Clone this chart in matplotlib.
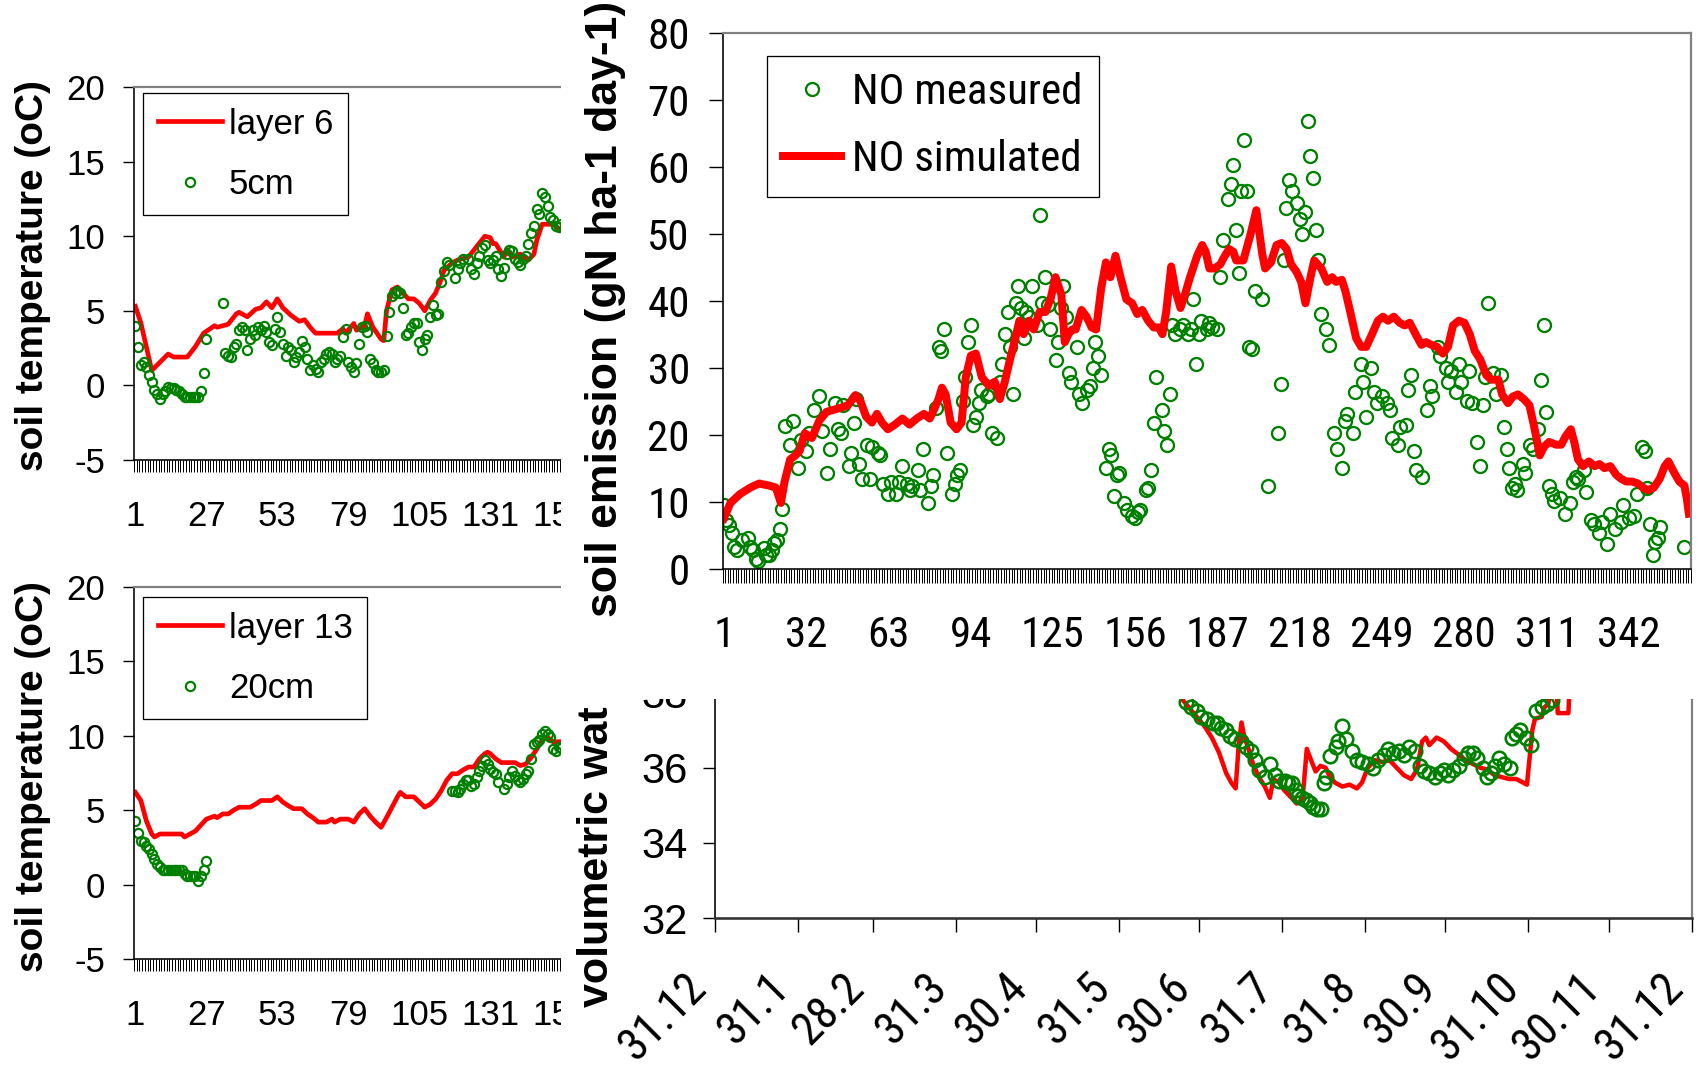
import os
import numpy as np
import matplotlib
matplotlib.use("Agg")
import matplotlib.pyplot as plt
from matplotlib.patches import Rectangle
from matplotlib.transforms import Bbox, TransformedBbox
from matplotlib import font_manager as fm
from matplotlib.font_manager import FontProperties

W, H, DPI = 1703, 1067, 100
PT = 72.0 / DPI

REG = "Liberation Sans"
plt.rcParams["font.family"] = [REG, "DejaVu Sans"]
plt.rcParams["axes.unicode_minus"] = False


def pick_condensed():
    pref = ["liberation sans narrow", "arial narrow", "roboto condensed", "open sans condensed",
            "noto sans", "liberation sans", "roboto", "open sans", "lato", "inter", "dejavu sans"]
    best = None
    for f in fm.fontManager.ttflist:
        base = os.path.basename(f.fname).lower()
        nm = f.name.lower()
        cond = ("narrow" in nm or "condensed" in nm or "narrow" in base or "condensed" in base
                or str(f.stretch) in ("condensed", "semi-condensed"))
        if not cond:
            continue
        if ("serif" in nm and "sans" not in nm) or "mono" in nm or "mono" in base:
            continue
        if any(k in base for k in ("bold", "italic", "light", "thin", "black", "medium",
                                   "oblique", "extracondensed", "ultracondensed",
                                   "extra-condensed", "ultra-condensed")):
            continue
        if f.style != "normal":
            continue
        fam = len(pref)
        for i, p in enumerate(pref):
            if nm.startswith(p):
                fam = i
                break
        var = 1 if "semi" in base or "semi" in str(f.stretch) else 0
        key = (fam, var)
        if best is None or key < best[0]:
            best = (key, f.fname)
    return best[1] if best else None


_cond = pick_condensed()
if _cond:
    NFP = FontProperties(fname=_cond, size=31)
    NFP_BR = FontProperties(fname=_cond, size=33)
else:
    NFP = FontProperties(family=REG, size=28)
    NFP_BR = FontProperties(family=REG, size=30)

RED, GREEN, GRAY = "#ff0000", "#008000", "#808080"

# ---------------- data ----------------
tl_xticks = [1, 27, 53, 79, 105, 131, 157]
tr_xticks = [1, 32, 63, 94, 125, 156, 187, 218, 249, 280, 311, 342]
br_xticks = [0, 31, 59, 90, 120, 151, 181, 212, 243, 273, 304, 334, 365]
br_xlabels = ["31.12", "31.1", "28.2", "31.3", "30.4", "31.5", "30.6", "31.7",
              "31.8", "30.9", "31.10", "30.11", "31.12"]

# top-left: layer 6 simulated / 5 cm measured
tl_sim_day = [1, 3, 7, 13, 15, 20, 23, 26, 30, 31, 35, 38, 39, 42, 45, 47, 49, 51, 53, 55, 58,
              61, 63, 65, 67, 75, 77, 78, 81, 82, 85, 86, 88, 91, 92, 93, 95, 97, 99, 101, 103,
              105, 107, 109, 111, 113, 114, 117, 119, 123, 126, 129, 131, 132, 133, 136, 137,
              139, 142, 145, 147, 148, 150, 154, 157, 160]
tl_sim_val = [5.3, 4.2, 1.0, 2.1, 1.9, 1.9, 2.6, 3.5, 4.0, 3.9, 4.1, 4.8, 4.9, 4.6, 5.1, 5.2,
              5.6, 5.2, 5.8, 5.2, 4.7, 4.3, 4.4, 3.9, 3.5, 3.5, 3.8, 3.5, 4.15, 3.7, 4.0, 4.8,
              3.9, 3.1, 3.0, 5.0, 6.4, 6.6, 6.2, 5.8, 5.8, 5.5, 5.0, 5.7, 6.2, 7.1, 7.7, 8.2,
              8.4, 8.6, 9.3, 10.0, 9.9, 9.5, 9.5, 8.6, 9.1, 8.6, 8.8, 8.4, 8.8, 9.7, 10.8,
              10.8, 10.4, 10.4]
tl_obs_day = [1, 2, 3, 4, 5, 6, 7, 8, 9, 10, 11, 12, 13, 14, 15, 16, 17, 18, 19, 20, 21, 22,
              23, 24, 25, 26, 27, 33, 34, 35, 36, 37, 38, 39, 40, 41, 42, 43, 44, 45, 46, 47,
              48, 49, 50, 51, 52, 53, 54, 55, 56, 57, 58, 59, 60, 61, 62, 63, 64, 65, 66, 67,
              68, 69, 70, 71, 72, 73, 74, 75, 76, 77, 78, 79, 80, 81, 82, 83, 84, 85, 86, 87,
              88, 89, 90, 91, 92, 93, 94, 95, 96, 97, 98, 99, 100, 101, 102, 103, 104, 105,
              106, 107, 108, 109, 110, 111, 112, 113, 114, 115, 116, 118, 119, 120, 121, 123,
              124, 125, 126, 127, 128, 129, 130, 131, 132, 133, 134, 135, 136, 137, 138, 139,
              140, 141, 142, 143, 144, 145, 146, 147, 148, 149, 150, 151, 152, 153, 154, 155,
              156, 157]
tl_obs_val = [4.0, 2.6, 1.35, 1.6, 1.25, 0.7, 0.25, -0.3, -0.6, -0.9, -0.6, -0.4, -0.1,
              -0.15, -0.2, -0.3, -0.4, -0.6, -0.75, -0.8, -0.8, -0.8, -0.8, -0.75, -0.4, 0.8,
              3.1, 5.5, 2.2, 2.0, 1.9, 2.6, 2.8, 3.7, 3.9, 3.7, 2.4, 3.1, 3.7, 3.4, 3.9, 3.7,
              4.0, 3.6, 2.9, 2.7, 3.8, 4.6, 3.6, 2.8, 2.0, 2.6, 2.4, 1.6, 1.9, 2.25, 3.0, 2.6,
              1.8, 1.0, 1.35, 1.1, 0.9, 1.6, 1.8, 2.1, 2.25, 2.1, 1.6, 1.8, 2.0, 3.25, 3.8,
              1.6, 1.25, 0.9, 1.5, 2.8, 3.9, 4.0, 3.6, 1.8, 1.5, 1.0, 0.9, 0.9, 1.0, 3.3, 4.9,
              6.0, 6.2, 6.3, 6.2, 5.2, 3.4, 3.5, 3.9, 4.15, 4.15, 2.9, 2.35, 3.1, 3.4, 4.6,
              5.4, 4.7, 4.8, 6.9, 7.7, 8.3, 8.1, 7.2, 7.8, 8.2, 8.5, 8.5, 7.8, 7.5, 8.2, 8.7,
              9.2, 9.4, 8.4, 8.2, 8.4, 8.7, 7.8, 7.3, 7.9, 8.8, 9.1, 9.0, 8.5, 8.3, 8.1, 8.5,
              8.7, 9.5, 10.2, 10.7, 11.8, 11.5, 12.9, 12.6, 12.0, 11.3, 11.1, 10.7, 10.6, 10.8]

# bottom-left: layer 13 simulated / 20 cm measured
bl_sim_day = [1, 3, 5, 7, 8, 10, 18, 19, 21, 23, 25, 27, 30, 31, 33, 35, 37, 39, 43, 45, 47,
              51, 53, 55, 57, 59, 62, 64, 66, 68, 71, 73, 74, 76, 79, 81, 83, 85, 87, 89, 91,
              93, 95, 97, 98, 100, 103, 105, 107, 109, 111, 113, 115, 117, 119, 121, 123, 125,
              127, 129, 130, 131, 133, 135, 140, 142, 144, 146, 148, 150, 152, 154, 160]
bl_sim_val = [6.2, 5.65, 4.3, 3.4, 3.2, 3.4, 3.4, 3.2, 3.4, 3.6, 4.0, 4.4, 4.6, 4.5, 4.75,
              4.75, 5.0, 5.2, 5.2, 5.4, 5.65, 5.65, 5.9, 5.55, 5.3, 5.1, 5.1, 4.75, 4.5, 4.2,
              4.2, 4.4, 4.2, 4.4, 4.4, 4.2, 4.75, 5.1, 4.6, 4.2, 3.85, 4.5, 5.2, 5.9, 6.2, 5.9,
              5.9, 5.55, 5.2, 5.4, 5.75, 6.3, 7.0, 7.45, 7.45, 7.7, 7.9, 7.9, 8.45, 8.8, 8.9,
              8.8, 8.45, 8.2, 8.2, 8.0, 8.1, 8.55, 9.1, 9.7, 9.9, 9.6, 9.6]
bl_obs_day = [1, 2, 3, 4, 5, 6, 7, 8, 9, 10, 11, 12, 13, 14, 15, 16, 17, 18, 19, 20, 21, 22,
              23, 24, 25, 26, 27, 117, 118, 119, 120, 121, 122, 123, 124, 125, 126, 127, 128,
              129, 130, 131, 132, 133, 134, 136, 137, 138, 139, 140, 141, 142, 143, 144, 145,
              146, 147, 148, 149, 150, 151, 152, 153, 154, 155, 156, 157]
bl_obs_val = [4.3, 3.5, 2.95, 2.85, 2.6, 2.4, 2.05, 1.7, 1.4, 1.15, 0.95, 0.95, 0.95, 0.95,
              0.95, 0.95, 0.95, 0.95, 0.7, 0.6, 0.6, 0.6, 0.6, 0.25, 0.6, 0.95, 1.6, 6.3, 6.3,
              6.2, 6.4, 6.75, 7.0, 7.0, 6.65, 6.75, 7.2, 7.65, 8.0, 8.35, 8.1, 7.8, 7.55,
              7.45, 6.9, 6.4, 6.75, 7.2, 7.65, 7.3, 7.0, 6.9, 7.1, 7.45, 7.65, 8.45, 9.45,
              9.55, 9.7, 10.1, 10.35, 10.1, 9.9, 9.1, 9.0, 9.25, 9.2]

# top-right: NO emission
tr_sim_day = [1, 3.5, 7, 11, 14.3, 18, 20.6, 22.5, 23.9, 26, 28, 29.6, 31.5, 34.2, 37, 39.7,
              42.4, 45, 47.8, 50.6, 52.5, 54.6, 56.8, 58.7, 60.6, 62.8, 65.5, 68.3, 71, 73.7,
              76.4, 78.6, 80.5, 81.9, 83.2, 84.6, 86.5, 88.7, 90.6, 92.2, 94.1, 96, 98.2,
              100.9, 103.1, 105, 106.9, 108.6, 110.5, 112.4, 114, 116, 117.8, 120, 122.2,
              124.1, 126, 128.2, 129.5, 130.9, 132.3, 133.6, 135.8, 137.7, 139.6, 141.3,
              143.2, 145, 146.7, 148.6, 150.5, 152.7, 154.9, 156.8, 158.7, 160.9, 163, 164.9,
              166.3, 167.7, 169.6, 171.2, 173.1, 175, 176.7, 179.4, 181.3, 182.6, 184, 185.9,
              188.1, 189.4, 191.4, 193, 194.1, 196.8, 199.5, 201.7, 203.9, 205, 207.2, 209.3,
              211.2, 213.1, 214.8, 216.7, 218.6, 220.2, 222.1, 223.5, 226.2, 228.4, 230.3,
              231.7, 233.9, 235.2, 237.1, 239.3, 241.2, 243.1, 245.3, 247.5, 249.4, 251.3,
              253.5, 255.7, 257.6, 259.5, 261.7, 263.9, 265.7, 267.6, 269.8, 272, 273.9,
              275.8, 278, 280.1, 282.1, 284, 286.1, 288.3, 290.2, 292.9, 294.3, 296.5, 298.4,
              300.3, 302.5, 304.6, 306.6, 308.5, 310.1, 312, 314.7, 316.6, 318.3, 320.2,
              321.5, 322.9, 324.8, 327, 329.2, 331, 332.9, 335.1, 337.3, 339.2, 341.1, 343.3,
              345.5, 347.4, 349.3, 351.5, 353.7, 355.6, 357, 359.2, 361.1, 363, 363.9, 364.7]
tr_sim_val = [7.6, 9.9, 11.2, 12.2, 12.8, 12.5, 12.2, 9.9, 13.1, 16.4, 17.0, 17.7, 20.3,
              19.6, 22.2, 23.5, 23.8, 24.1, 24.5, 26.0, 25.1, 22.8, 21.9, 23.2, 21.9, 20.9,
              21.6, 22.5, 21.6, 22.5, 23.2, 22.5, 24.1, 25.4, 27.1, 26.1, 21.9, 20.9, 21.9,
              28.7, 31.9, 32.2, 28.7, 27.4, 28.0, 25.4, 28.0, 30.9, 33.9, 37.1, 35.1, 37.1,
              35.8, 38.4, 38.4, 40.3, 43.6, 41.0, 33.9, 35.1, 35.8, 35.8, 38.7, 37.7, 36.1,
              35.8, 41.9, 45.8, 43.6, 46.8, 43.6, 40.3, 39.7, 38.1, 38.7, 37.1, 36.1, 36.1,
              35.1, 38.4, 45.2, 41.6, 39.0, 41.3, 43.6, 46.8, 48.4, 47.4, 44.9, 44.9, 45.5,
              46.5, 47.8, 47.4, 46.1, 46.1, 50.0, 53.6, 47.1, 44.9, 45.8, 48.4, 48.7, 47.8,
              45.5, 44.5, 42.9, 39.7, 43.6, 46.1, 44.9, 42.9, 43.6, 42.9, 43.2, 41.6, 38.4,
              34.5, 33.2, 33.2, 35.1, 37.1, 37.7, 37.1, 37.7, 36.8, 36.4, 36.8, 35.1, 33.5,
              33.9, 33.5, 33.2, 32.2, 33.2, 36.4, 37.1, 36.8, 35.1, 32.6, 31.3, 29.0, 28.3,
              28.3, 26.1, 24.8, 25.8, 26.1, 25.4, 24.5, 20.9, 17.0, 18.3, 19.0, 18.6, 18.6,
              19.9, 20.9, 19.0, 16.4, 15.4, 16.1, 15.4, 15.7, 15.1, 15.4, 14.1, 13.5, 13.1,
              13.1, 12.8, 12.2, 11.8, 12.2, 13.5, 15.4, 16.1, 14.4, 13.1, 12.5, 10.6, 8.3]
tr_obs_day = [1, 2, 3, 4, 5, 6, 8, 10, 11, 12, 13, 14, 16, 17, 18, 19, 20, 21, 22, 23, 24,
              26, 27, 29, 30, 32, 33, 35, 37, 38, 40, 41, 43, 44, 45, 46, 48, 49, 50, 51, 52,
              53, 55, 56, 57, 59, 60, 61, 63, 64, 66, 67, 68, 70, 71, 72, 74, 75, 76, 78, 79,
              80, 81, 82, 83, 84, 85, 87, 88, 89, 90, 91, 92, 93, 94, 95, 96, 97, 98, 100,
              101, 102, 104, 105, 106, 107, 108, 109, 110, 111, 112, 113, 114, 115, 116, 117,
              119, 120, 121, 122, 123, 124, 126, 127, 128, 129, 130, 131, 132, 134, 135, 136,
              138, 139, 140, 141, 142, 143, 145, 146, 147, 148, 149, 150, 152, 153, 155, 156,
              157, 158, 160, 161, 162, 163, 164, 166, 167, 168, 169, 170, 171, 173, 174, 176,
              177, 178, 179, 180, 181, 183, 184, 185, 187, 188, 189, 191, 192, 193, 194, 195,
              196, 197, 198, 199, 200, 201, 204, 206, 210, 211, 212, 213, 214, 215, 217, 218,
              219, 220, 221, 222, 223, 224, 225, 226, 228, 229, 231, 232, 234, 235, 236, 238,
              239, 241, 242, 243, 245, 246, 247, 249, 251, 252, 253, 255, 256, 258, 259, 260,
              261, 262, 264, 266, 267, 268, 270, 271, 273, 274, 275, 277, 278, 279, 281, 282,
              283, 285, 286, 287, 288, 289, 291, 292, 294, 295, 296, 297, 298, 299, 300, 302,
              303, 305, 306, 308, 309, 310, 311, 312, 313, 314, 316, 318, 320, 321, 322, 323,
              325, 326, 328, 329, 331, 332, 334, 335, 337, 339, 340, 342, 344, 345, 347, 348,
              349, 350, 351, 352, 353, 354, 363]
tr_obs_val = [9.6, 7.4, 6.6, 5.4, 3.4, 2.9, 4.4, 4.7, 3.4, 2.9, 1.6, 1.3, 3.2, 2.2, 2.2, 2.9,
              3.9, 4.4, 6.0, 9.0, 21.4, 18.6, 22.1, 15.1, 19.3, 17.7, 20.3, 23.8, 25.8, 20.6,
              14.4, 18.0, 24.8, 20.9, 20.3, 24.5, 15.4, 17.3, 21.9, 25.4, 15.7, 13.5, 18.6,
              13.5, 18.3, 17.3, 17.0, 12.8, 11.2, 13.1, 11.2, 13.1, 15.4, 12.8, 11.8, 12.5,
              14.8, 11.8, 18.0, 9.9, 12.5, 14.1, 24.1, 33.2, 32.6, 35.8, 17.3, 11.2, 12.8,
              14.1, 14.8, 25.1, 28.7, 33.9, 36.4, 21.6, 22.8, 24.8, 26.7, 25.8, 26.1, 20.3,
              19.6, 28.0, 30.6, 35.1, 38.4, 33.2, 26.1, 39.7, 42.3, 39.0, 34.5, 38.4, 37.7,
              42.3, 36.4, 52.9, 39.7, 43.6, 39.4, 35.8, 31.3, 33.9, 39.0, 42.3, 37.7, 29.3,
              28.0, 33.2, 26.1, 24.8, 26.7, 27.4, 30.0, 33.9, 31.9, 29.0, 15.1, 18.0, 17.0,
              10.9, 14.1, 14.4, 9.9, 8.9, 8.0, 7.6, 8.6, 8.9, 11.8, 12.2, 14.8, 21.9, 28.7,
              23.8, 20.6, 18.6, 26.1, 36.4, 35.1, 35.8, 36.4, 35.1, 35.8, 40.3, 30.6, 35.1,
              37.1, 35.8, 36.8, 36.1, 35.8, 43.6, 49.1, 55.2, 57.5, 60.4, 50.7, 44.2, 56.5,
              64.0, 56.5, 33.2, 32.9, 41.6, 40.3, 12.5, 20.3, 27.7, 46.1, 53.9, 58.1, 56.5,
              54.6, 52.3, 50.0, 53.3, 66.9, 61.7, 58.4, 50.7, 46.1, 38.1, 35.8, 33.5, 20.3,
              18.0, 15.1, 22.2, 23.2, 20.3, 26.4, 30.6, 28.0, 22.8, 30.0, 26.4, 24.8, 25.8,
              24.8, 23.8, 19.6, 18.6, 21.2, 21.6, 26.7, 29.0, 17.7, 14.8, 13.8, 23.8, 27.4,
              25.8, 33.2, 31.9, 30.0, 28.0, 29.6, 26.4, 30.6, 28.0, 25.1, 29.6, 24.8, 19.0,
              15.4, 24.5, 28.7, 39.7, 29.3, 26.1, 29.0, 21.2, 18.0, 15.1, 12.2, 12.8, 11.8,
              15.7, 14.4, 18.6, 18.0, 20.9, 28.3, 36.4, 23.5, 12.5, 11.2, 10.2, 10.6, 8.3,
              9.9, 13.1, 13.8, 13.5, 14.8, 11.5, 7.3, 6.7, 5.4, 7.0, 3.8, 8.3, 6.0, 7.0, 9.6,
              7.6, 8.0, 11.2, 18.3, 17.7, 12.2, 6.7, 2.1, 4.1, 4.7, 6.3, 3.4]

# bottom-right: volumetric water content
br_sim_day = [170, 174.8, 178.9, 183, 185.7, 188.4, 191.1, 193, 194.6, 195.7, 196.8, 197.9,
              199.2, 201.1, 203.3, 205.5, 207.4, 208.7, 210.9, 212.8, 215.5, 217.4, 219.6,
              221.2, 222.8, 224.5, 226.3, 228.2, 229.9, 231.8, 234.5, 237.2, 239.9, 241.8,
              244, 246.7, 249.4, 252.1, 254.8, 257.5, 260.2, 262.4, 264.3, 265.7, 267,
              269.7, 272.4, 275.1, 277.9, 280.6, 283.3, 286, 288.7, 291.4, 294.1, 296.8,
              299.5, 303.5, 305.5, 306.5, 309, 310, 311.5, 312.5, 314.5, 315, 319, 319.5, 322]
br_sim_val = [38.6, 37.8, 37.45, 37.1, 36.8, 36.4, 35.85, 35.6, 35.45, 36.55, 37.2, 36.8,
              36.55, 36.1, 35.75, 35.5, 35.2, 35.7, 35.6, 35.4, 35.2, 35.05, 35.15, 36.5, 36.2,
              35.9, 36.05, 36.0, 35.75, 35.6, 35.5, 35.55, 35.45, 35.6, 36.0, 36.2, 36.15,
              36.2, 36.0, 35.8, 35.7, 35.95, 36.7, 36.8, 36.6, 36.8, 36.7, 36.5, 36.35, 36.2,
              36.1, 36.0, 35.95, 35.8, 35.75, 35.7, 35.7, 35.55, 37.0, 37.3, 37.35, 37.6,
              37.7, 38.3, 38.3, 37.45, 37.45, 38.3, 39.0]
br_obs_day = [176, 178, 180, 181.5, 184, 186, 187.5, 189, 191, 192.5, 194.5, 196.5, 198.5,
              200.5, 202, 203.5, 205.5, 207.5, 209.5, 211, 213, 214, 215.5, 217, 218, 219.5,
              221, 222.5, 223.5, 225, 226.5, 227.5, 228.5, 230, 232, 233, 234.5, 236, 238,
              240, 242, 244, 246, 248, 250, 251.5, 253.5, 255.5, 257.5, 259.5, 261.5, 263.5,
              265, 267, 269, 271, 272.5, 274, 276, 278, 280, 281.5, 283.5, 285, 287, 288.5,
              290, 291.5, 293, 295, 297, 298, 299.5, 301, 303, 305, 307, 309, 311, 313]
br_obs_val = [37.75, 37.6, 37.5, 37.35, 37.3, 37.2, 37.2, 37.05, 37.0, 36.85, 36.75, 36.7,
              36.55, 36.45, 36.2, 35.95, 35.75, 36.1, 35.8, 35.65, 35.65, 35.6, 35.6, 35.4,
              35.25, 35.2, 35.15, 35.05, 34.95, 34.9, 34.9, 35.6, 35.75, 36.3, 36.55, 36.7,
              37.1, 36.75, 36.45, 36.2, 36.15, 36.1, 36.0, 36.2, 36.35, 36.5, 36.4, 36.45,
              36.35, 36.55, 36.45, 36.05, 35.9, 35.85, 35.75, 35.85, 35.95, 35.8, 35.95,
              36.05, 36.25, 36.4, 36.4, 36.25, 36.0, 35.75, 35.85, 36.05, 36.25, 36.1, 36.0,
              36.8, 36.9, 37.0, 36.8, 36.6, 37.5, 37.6, 37.7, 37.8]


# ---------------- helpers ----------------
def box(l, t, r, b):
    return [l / W, 1 - b / H, (r - l) / W, (b - t) / H]


def spines(ax, top=True):
    ax.spines["left"].set_color("black")
    ax.spines["left"].set_linewidth(1.6 * PT)
    ax.spines["bottom"].set_color("black")
    ax.spines["bottom"].set_linewidth(1.6 * PT)
    ax.spines["right"].set_color(GRAY)
    ax.spines["right"].set_linewidth(2.2 * PT)
    ax.spines["top"].set_color(GRAY)
    ax.spines["top"].set_linewidth(2.2 * PT)
    ax.spines["top"].set_visible(top)


fig = plt.figure(figsize=(W / DPI, H / DPI), dpi=DPI)
fig.patch.set_facecolor("white")
left_clip = TransformedBbox(Bbox.from_extents(0, 0, 561 / W, 1), fig.transFigure)
lower_clip = TransformedBbox(Bbox.from_extents(0, 0, 1, 1 - 699 / H), fig.transFigure)


def temp_panel(top, bottom, sim_d, sim_v, obs_d, obs_v, lab_sim, lab_obs, leg_box):
    ax = fig.add_axes(box(134, top, 134 + 181 * 2.73, bottom), zorder=0)
    ax.plot(sim_d, sim_v, color=RED, lw=4.7 * PT, solid_joinstyle="round", label=lab_sim)
    ax.plot(obs_d, obs_v, linestyle="none", marker="o", ms=9.2 * PT, mfc="none",
            mec=GREEN, mew=2.2 * PT, label=lab_obs)
    ax.set_xlim(0.5, 181.5)
    ax.set_ylim(-5, 20)
    ax.set_yticks([-5, 0, 5, 10, 15, 20])
    ax.set_xticks(tl_xticks)
    ax.set_xticks(np.arange(0.5, 182, 1.0), minor=True)
    ax.tick_params(axis="x", which="major", length=0, pad=29, labelsize=25)
    ax.tick_params(axis="x", which="minor", length=12 * PT, width=1.0 * PT, direction="out")
    ax.tick_params(axis="y", which="major", length=11 * PT, width=1.4 * PT, pad=13,
                   labelsize=25, direction="out")
    spines(ax)
    leg = ax.legend(loc="upper left", bbox_to_anchor=(leg_box[0] / W, 1 - leg_box[1] / H),
                    bbox_transform=fig.transFigure, borderaxespad=0, frameon=True,
                    fancybox=False, edgecolor="black", framealpha=1, fontsize=25,
                    handlelength=1.85, handletextpad=0.2, borderpad=0.42, labelspacing=0.78)
    leg.get_frame().set_linewidth(1.3 * PT)
    for lab in ax.get_xticklabels():
        lab.set_clip_on(True)
        lab.set_clip_box(left_clip)
    return ax


ax1 = temp_panel(87, 460, tl_sim_day, tl_sim_val, tl_obs_day, tl_obs_val, "layer 6", "5cm",
                 (143, 93))
ax2 = temp_panel(587, 959, bl_sim_day, bl_sim_val, bl_obs_day, bl_obs_val, "layer 13", "20cm",
                 (143, 597))
for yc in (276, 777):
    fig.text(33 / W, 1 - yc / H, "soil temperature (oC)", rotation=90, ha="center",
             va="center", fontsize=28, fontweight="bold")

# cover right part of left panels
fig.add_artist(Rectangle((561 / W, 0), 1, 1, transform=fig.transFigure, facecolor="white",
                         edgecolor="none", zorder=0.5))

# bottom-right panel
ax4 = fig.add_axes(box(715, 918.3 - 8 * 37.65, 1691.5, 918.3), zorder=1)
ax4.plot(br_sim_day, br_sim_val, color=RED, lw=4.5 * PT, solid_joinstyle="round")
ax4.plot(br_obs_day, br_obs_val, linestyle="none", marker="o", ms=13.5 * PT, mfc="none",
         mec=GREEN, mew=2.6 * PT)
ax4.set_xlim(0, 365)
ax4.set_ylim(32, 40)
ax4.set_yticks([32, 34, 36, 38, 40])
ax4.set_xticks(br_xticks)
ax4.set_xticklabels(br_xlabels)
ax4.tick_params(axis="y", length=12 * PT, width=1.4 * PT, pad=11, labelsize=30)
ax4.tick_params(axis="x", length=14 * PT, width=1.4 * PT, pad=23)
for lab in ax4.get_xticklabels():
    lab.set_fontproperties(NFP_BR)
    lab.set_rotation(45)
    lab.set_ha("right")
    lab.set_va("top")
spines(ax4)
ax4.spines["bottom"].set_color("#333333")
ax4.spines["bottom"].set_linewidth(2.6 * PT)
br_lab = fig.text(597 / W, 1 - 1007 / H, "volumetric wat", rotation=90, ha="center",
                  va="bottom", fontsize=31, fontweight="bold", zorder=1.2)
br_lab.set_clip_on(True)
br_lab.set_clip_box(lower_clip)

# cover top part of bottom-right panel
fig.add_artist(Rectangle((561 / W, 1 - 699 / H), 1, 699 / H, transform=fig.transFigure,
                         facecolor="white", edgecolor="none", zorder=1.5))

# top-right panel
ax3 = fig.add_axes(box(722.5, 33.3, 1691, 569.3), zorder=2)
ax3.plot(tr_obs_day, tr_obs_val, linestyle="none", marker="o", ms=13 * PT, mfc="none",
         mec=GREEN, mew=2.3 * PT, label="NO measured")
ax3.plot(tr_sim_day, tr_sim_val, color=RED, lw=8 * PT, solid_joinstyle="round",
         label="NO simulated")
ax3.set_xlim(0.5, 365.5)
ax3.set_ylim(0, 80)
ax3.set_yticks(range(0, 81, 10))
ax3.set_xticks(tr_xticks)
ax3.set_xticks(np.arange(0.5, 366, 1.0), minor=True)
ax3.tick_params(axis="x", which="major", length=0, pad=33)
ax3.tick_params(axis="x", which="minor", length=14 * PT, width=1.0 * PT)
ax3.tick_params(axis="y", length=14 * PT, width=1.4 * PT, pad=13.5)
for lab in ax3.get_xticklabels() + ax3.get_yticklabels():
    lab.set_fontproperties(NFP)
spines(ax3)
leg3 = ax3.legend(loc="upper left", bbox_to_anchor=(767 / W, 1 - 56 / H),
                  bbox_transform=fig.transFigure, borderaxespad=0, frameon=True,
                  fancybox=False, edgecolor="black", framealpha=1, prop=NFP,
                  handlelength=1.35, handletextpad=0.25, borderpad=0.38, labelspacing=0.6)
leg3.get_frame().set_linewidth(1.3 * PT)
fig.text(605 / W, 1 - 309 / H, "soil emission (gN ha-1 day-1)", rotation=90, ha="center",
         va="center", fontsize=32, fontweight="bold", zorder=3)

fig.savefig("out.png", dpi=DPI)
